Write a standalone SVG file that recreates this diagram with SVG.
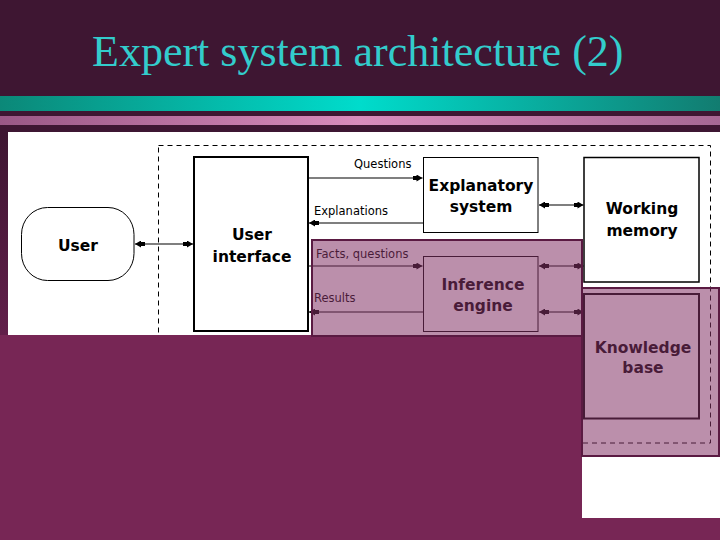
<svg xmlns="http://www.w3.org/2000/svg" width="720" height="540" viewBox="0 0 720 540">
  <style>
    .title { font-family: "Liberation Serif", "Times New Roman", serif; font-size: 44px; fill: #33cccc; }
    .node-text { font-family: "DejaVu Sans", Verdana, sans-serif; font-size: 15.5px; font-weight: bold; fill: #000; text-anchor: middle; }
    .label { font-family: "DejaVu Sans", Verdana, sans-serif; font-size: 11.5px; fill: #000; }
    .box { fill: #fff; stroke: #000; }
    .conn { stroke: #000; stroke-width: 1.2; fill: none; }
    .overlay { fill: rgb(131,51,102); fill-opacity: 0.55; stroke: #5a1a42; stroke-width: 2; }
  </style>
  <defs>
    <linearGradient id="tealBar" x1="0" y1="0" x2="1" y2="0">
      <stop offset="0" stop-color="#0b8878"/>
      <stop offset="0.5" stop-color="#00dccc"/>
      <stop offset="1" stop-color="#127c70"/>
    </linearGradient>
    <linearGradient id="pinkBar" x1="0" y1="0" x2="1" y2="0">
      <stop offset="0" stop-color="#9a5886"/>
      <stop offset="0.5" stop-color="#d98cbc"/>
      <stop offset="1" stop-color="#a66894"/>
    </linearGradient>
    <linearGradient id="leftStrip" x1="0" y1="0" x2="0" y2="1">
      <stop offset="0" stop-color="#3e1632"/>
      <stop offset="1" stop-color="#621f4a"/>
    </linearGradient>
    <clipPath id="imgClip">
      <rect x="8" y="132" width="574" height="203"/>
      <rect x="582" y="132" width="138" height="386"/>
    </clipPath>
    <marker id="arrow" viewBox="0 0 10 7" refX="10" refY="3.5" markerWidth="10" markerHeight="7" markerUnits="userSpaceOnUse" orient="auto-start-reverse">
      <path d="M0,1.5 L4,1.5 L4,0 L10,3.5 L4,7 L4,5.5 L0,5.5 z" fill="#000"/>
    </marker>
  </defs>

  <!-- slide background -->
  <rect x="0" y="0" width="720" height="540" fill="#772655"/>
  <rect x="0" y="0" width="720" height="132" fill="#3e1632"/>
  <rect x="0" y="132" width="8" height="203" fill="url(#leftStrip)"/>
  <rect x="0" y="96" width="720" height="15" fill="url(#tealBar)"/>
  <rect x="0" y="116" width="720" height="9" fill="url(#pinkBar)"/>
  <text class="title" x="92" y="66">Expert system architecture (2)</text>

  <!-- white picture area -->
  <rect x="8" y="132" width="574" height="203" fill="#fff"/>
  <rect x="582" y="132" width="138" height="386" fill="#fff"/>

  <g clip-path="url(#imgClip)">
    <!-- expert system boundary -->
    <rect x="158.5" y="145.5" width="552" height="297.5" fill="none" stroke="#000" stroke-width="1" stroke-dasharray="5,4"/>

    <g id="user">
      <rect class="box" x="21.5" y="207.5" width="112.5" height="73" rx="26" ry="27" stroke-width="1"/>
      <text class="node-text" x="78" y="251">User</text>
    </g>

    <g id="user-interface">
      <rect class="box" x="194" y="157" width="114" height="174" stroke-width="2"/>
      <text class="node-text" x="252" y="240">User</text>
      <text class="node-text" x="252" y="262">interface</text>
    </g>

    <g id="explanatory-system">
      <rect class="box" x="423.5" y="157.5" width="114.5" height="75" stroke-width="1"/>
      <text class="node-text" x="481" y="191">Explanatory</text>
      <text class="node-text" x="481" y="212">system</text>
    </g>

    <g id="working-memory">
      <rect class="box" x="584" y="157.5" width="115" height="124.5" stroke-width="1.5"/>
      <text class="node-text" x="642" y="214">Working</text>
      <text class="node-text" x="642" y="236">memory</text>
    </g>

    <g id="inference-engine">
      <rect class="box" x="423.5" y="256.5" width="114.5" height="75" stroke-width="1"/>
      <text class="node-text" x="483" y="290">Inference</text>
      <text class="node-text" x="483" y="311">engine</text>
    </g>

    <g id="knowledge-base">
      <rect class="box" x="584" y="294" width="115" height="124.5" stroke-width="2"/>
      <text class="node-text" x="643" y="353">Knowledge</text>
      <text class="node-text" x="643" y="373">base</text>
    </g>

    <g id="connectors">
      <line class="conn" x1="135" y1="244" x2="193" y2="244" marker-start="url(#arrow)" marker-end="url(#arrow)"/>
      <line class="conn" x1="309" y1="178" x2="422.5" y2="178" marker-end="url(#arrow)"/>
      <text class="label" x="354" y="168">Questions</text>
      <line class="conn" x1="423" y1="223" x2="309" y2="223" marker-end="url(#arrow)"/>
      <text class="label" x="314" y="215">Explanations</text>
      <line class="conn" x1="539" y1="205" x2="583.5" y2="205" marker-start="url(#arrow)" marker-end="url(#arrow)"/>
      <line class="conn" x1="309" y1="266" x2="422.5" y2="266" marker-end="url(#arrow)"/>
      <text class="label" x="316" y="258">Facts, questions</text>
      <line class="conn" x1="423" y1="312" x2="309" y2="312" marker-end="url(#arrow)"/>
      <text class="label" x="314" y="302">Results</text>
      <line class="conn" x1="539" y1="266" x2="583.5" y2="266" marker-start="url(#arrow)" marker-end="url(#arrow)"/>
      <line class="conn" x1="539" y1="312" x2="583.5" y2="312" marker-start="url(#arrow)" marker-end="url(#arrow)"/>
    </g>
  </g>

  <!-- purple highlight overlays -->
  <rect class="overlay" x="312" y="240" width="270" height="96"/>
  <rect class="overlay" x="582" y="288" width="137" height="168"/>
</svg>
